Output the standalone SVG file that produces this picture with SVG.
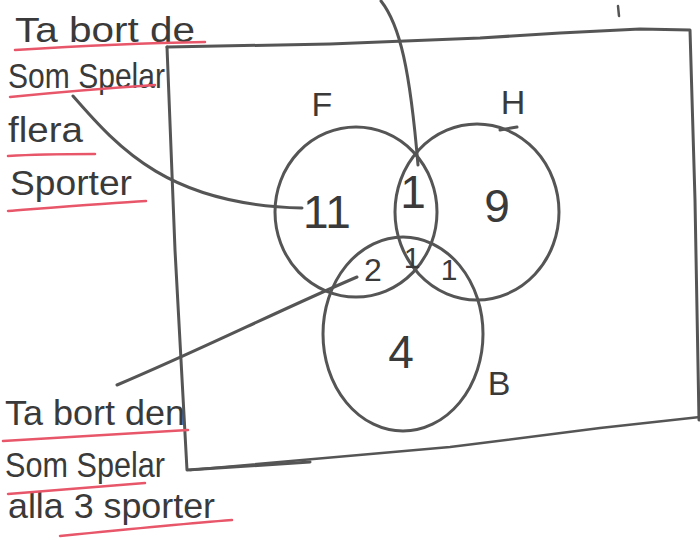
<svg xmlns="http://www.w3.org/2000/svg" width="700" height="540" viewBox="0 0 700 540">
<style>
.ln{fill:none;stroke:#555;stroke-width:3;stroke-linecap:round;stroke-linejoin:round}
.red{fill:none;stroke:#e8566a;stroke-width:2.5;stroke-linecap:round}
.hand{font-family:"Liberation Sans","DejaVu Sans",sans-serif;fill:#3a3a3a;font-size:35px}
.num{font-family:"Liberation Sans","DejaVu Sans",sans-serif;fill:#3a3a3a;font-size:46px;text-anchor:middle}
.lab{font-family:"Liberation Sans","DejaVu Sans",sans-serif;fill:#3a3a3a;font-size:34px;text-anchor:middle}
</style>
<rect width="700" height="540" fill="#fff"/>
<g id="frame">
<path class="ln" d="M167,47 L330,44 L480,38 L560,33 L640,29 L690,30 L695,200 L699,420"/>
<path class="ln" d="M167,47 L175,250 L187,470 L310,462"/>
<path class="ln" d="M190,470 L450,447 L600,428 L700,417" style="stroke-width:2.5"/>
<path class="ln" d="M618,6 L619,16" style="stroke-width:2.5"/>
</g>
<g id="F">
<ellipse class="ln" cx="356" cy="212" rx="81" ry="85"/>
<text class="lab" x="322" y="116">F</text>
</g>
<g id="H">
<ellipse class="ln" cx="477" cy="212" rx="82" ry="88"/>
<path class="ln" d="M500,130 L517,127"/>
<text class="lab" x="513" y="114">H</text>
</g>
<g id="B">
<ellipse class="ln" cx="403" cy="334" rx="80" ry="97"/>
<text class="lab" x="499" y="395">B</text>
</g>
<g id="numbers">
<text class="num" x="327" y="228">11</text>
<text class="num" x="413" y="208">1</text>
<text class="num" x="497" y="222">9</text>
<text class="num" x="373" y="281" style="font-size:32px">2</text>
<text class="num" x="412" y="268" style="font-size:30px">1</text>
<text class="num" x="449" y="280" style="font-size:30px">1</text>
<text class="num" x="401" y="368">4</text>
</g>
<g id="connectors">
<path class="ln" d="M381,1 C400,25 410,70 418,165"/>
<path class="ln" d="M73,96 C120,150 170,205 302,208"/>
<path class="ln" d="M117,385 C200,350 280,310 357,277"/>
</g>
<g id="note-top">
<text class="hand" x="15" y="42" textLength="180" lengthAdjust="spacingAndGlyphs">Ta bort de</text>
<text class="hand" x="8" y="88" textLength="157" lengthAdjust="spacingAndGlyphs">Som Spelar</text>
<text class="hand" x="8" y="142" textLength="75" lengthAdjust="spacingAndGlyphs">flera</text>
<text class="hand" x="10" y="195" textLength="122" lengthAdjust="spacingAndGlyphs">Sporter</text>
<path class="red" d="M15,50 C80,46 150,43 205,42"/>
<path class="red" d="M10,97 C60,92 110,88 155,85"/>
<path class="red" d="M8,156 C40,154 70,154 95,154"/>
<path class="red" d="M8,211 C60,207 110,203 146,201"/>
</g>
<g id="note-bottom">
<text class="hand" x="5" y="425" textLength="180" lengthAdjust="spacingAndGlyphs">Ta bort den</text>
<text class="hand" x="5" y="477" textLength="160" lengthAdjust="spacingAndGlyphs">Som Spelar</text>
<text class="hand" x="8" y="518" textLength="207" lengthAdjust="spacingAndGlyphs">alla 3 sporter</text>
<path class="red" d="M3,441 C70,437 130,433 188,430"/>
<path class="red" d="M8,494 C60,490 110,486 145,483"/>
<path class="red" d="M60,536 C120,530 180,524 232,520"/>
</g>
</svg>
